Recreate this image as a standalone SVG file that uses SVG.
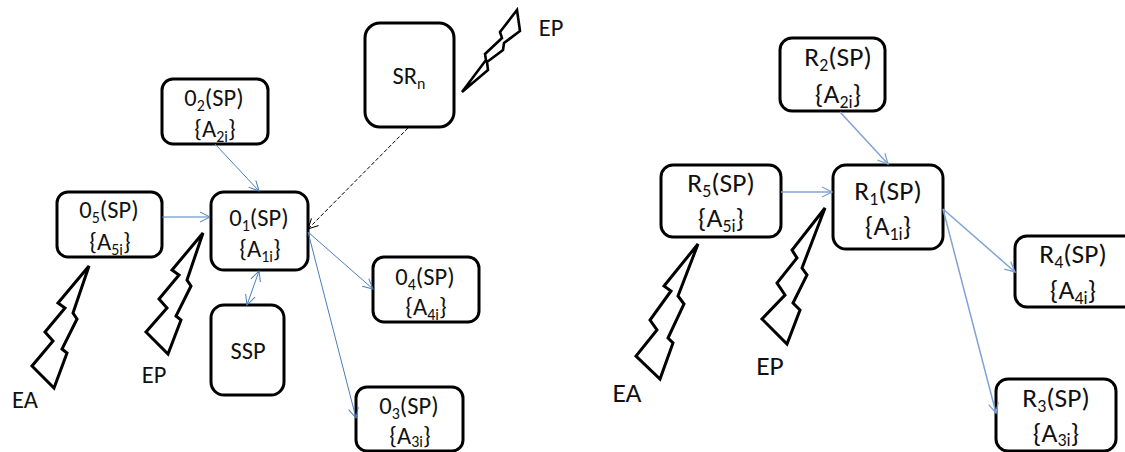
<svg xmlns="http://www.w3.org/2000/svg" width="1125" height="452" viewBox="0 0 1125 452">
<style>
.box{fill:#fff;stroke:#000;stroke-width:3}
.bolt{fill:#fff;stroke:#000;stroke-width:3;stroke-linejoin:miter}
.t{font-family:Carlito,Lato,"Open Sans",sans-serif;font-size:24.5px;fill:#111;text-anchor:middle}
.b{font-size:27.5px}
.c{fill:none;stroke:#4a7ebb;stroke-width:1;marker-end:url(#a)}
.r{stroke:#7fa3d3;stroke-width:1.5;marker-end:url(#b)}
.s{font-size:65%}
</style>
<defs>
<marker id="a" markerUnits="userSpaceOnUse" markerWidth="14" markerHeight="14" refX="11" refY="6" orient="auto-start-reverse"><path d="M1 1L11 6L1 11" fill="none" stroke="#4a7ebb"/></marker>
<marker id="b" markerUnits="userSpaceOnUse" markerWidth="14" markerHeight="14" refX="11" refY="6" orient="auto"><path d="M1 1L11 6L1 11" fill="none" stroke="#7fa3d3" stroke-width="1.3"/></marker>
<marker id="k" markerUnits="userSpaceOnUse" markerWidth="14" markerHeight="14" refX="11" refY="6" orient="auto"><path d="M1 1L11 6L1 11" fill="none" stroke="#000"/></marker>
</defs>
<g id="n-o2"><rect class="box" x="162" y="79" width="106" height="65" rx="11"/><text class="t" x="214" y="106">0<tspan class="s" dy="5">2</tspan><tspan dy="-5">(SP)</tspan></text><text class="t" x="215" y="137">{A<tspan class="s" dy="5">2i</tspan><tspan dy="-5">}</tspan></text></g>
<g id="n-o5"><rect class="box" x="57" y="192" width="105" height="65" rx="11"/><text class="t" x="109" y="218">0<tspan class="s" dy="5">5</tspan><tspan dy="-5">(SP)</tspan></text><text class="t" x="110" y="250">{A<tspan class="s" dy="5">5i</tspan><tspan dy="-5">}</tspan></text></g>
<g id="n-o1"><rect class="box" x="211" y="192" width="97" height="78" rx="13"/><text class="t" x="259" y="226">0<tspan class="s" dy="5">1</tspan><tspan dy="-5">(SP)</tspan></text><text class="t" x="260" y="257">{A<tspan class="s" dy="5">1i</tspan><tspan dy="-5">}</tspan></text></g>
<g id="n-ssp"><rect class="box" x="211" y="305" width="73" height="90" rx="13"/><text class="t" x="248" y="359">SSP</text></g>
<g id="n-srn"><rect class="box" x="365" y="23" width="89" height="104" rx="15"/><text class="t" x="409" y="84">SR<tspan class="s" dy="5">n</tspan></text></g>
<g id="n-o4"><rect class="box" x="373" y="257" width="106" height="65" rx="11"/><text class="t" x="425" y="285">0<tspan class="s" dy="5">4</tspan><tspan dy="-5">(SP)</tspan></text><text class="t" x="426" y="315">{A<tspan class="s" dy="5">4i</tspan><tspan dy="-5">}</tspan></text></g>
<g id="n-o3"><rect class="box" x="356" y="387" width="107" height="64" rx="11"/><text class="t" x="409" y="414">0<tspan class="s" dy="5">3</tspan><tspan dy="-5">(SP)</tspan></text><text class="t" x="410" y="444">{A<tspan class="s" dy="3">3i</tspan><tspan dy="-3">}</tspan></text></g>
<g id="n-r2"><rect class="box" x="780" y="38" width="105" height="73" rx="12"/><text class="t b" x="838" y="66">R<tspan class="s" dy="5">2</tspan><tspan dy="-5">(SP)</tspan></text><text class="t b" x="838" y="103">{A<tspan class="s" dy="5">2i</tspan><tspan dy="-5">}</tspan></text></g>
<g id="n-r5"><rect class="box" x="661" y="165" width="120" height="72" rx="12"/><text class="t b" x="721" y="192">R<tspan class="s" dy="5">5</tspan><tspan dy="-5">(SP)</tspan></text><text class="t b" x="721" y="227">{A<tspan class="s" dy="5">5i</tspan><tspan dy="-5">}</tspan></text></g>
<g id="n-r1"><rect class="box" x="833" y="165" width="110" height="84" rx="13"/><text class="t b" x="888" y="200">R<tspan class="s" dy="5">1</tspan><tspan dy="-5">(SP)</tspan></text><text class="t b" x="888" y="235">{A<tspan class="s" dy="5">1i</tspan><tspan dy="-5">}</tspan></text></g>
<g id="n-r4"><rect class="box" x="1015" y="236" width="125" height="71" rx="12"/><text class="t b" x="1073" y="263">R<tspan class="s" dy="5">4</tspan><tspan dy="-5">(SP)</tspan></text><text class="t b" x="1073" y="299">{A<tspan class="s" dy="5">4i</tspan><tspan dy="-5">}</tspan></text></g>
<g id="n-r3"><rect class="box" x="996" y="379" width="120" height="72" rx="12"/><text class="t b" x="1056" y="407">R<tspan class="s" dy="5">3</tspan><tspan dy="-5">(SP)</tspan></text><text class="t b" x="1056" y="442">{A<tspan class="s" dy="4">3i</tspan><tspan dy="-4">}</tspan></text></g>
<g id="bolts">
<polygon class="bolt" points="89,266 73,313 77,319 62,349 67,353 54,388 32,366 53,341 45,332 65,308 58,303"/>
<polygon class="bolt" points="203,233 187,280 191,286 176,316 181,320 168,354 146,332 167,308 159,299 179,275 172,270"/>
<polygon class="bolt" style="stroke-width:2.6" points="462,92 486,60 485,54 502,38 500,32 517,10 520,31 504,43 503,50 487,62 488,70"/>
<polygon class="bolt" points="698,244 678,296 684,304 668,338 673,343 660,379 636,356 657,330 650,320 671,291 664,286"/>
<polygon class="bolt" points="825,208 802,268 807,275 793,303 800,310 787,344 762,319 785,295 777,283 797,258 792,250"/>
</g>
<g id="connectors">
<path class="c" d="M215 144L259 191"/>
<path class="c" d="M162 217L210 217"/>
<path class="c" d="M259 271L247 305" style="marker-start:url(#a)"/>
<path d="M408 128L308 229" fill="none" stroke="#000" stroke-dasharray="4 2" marker-end="url(#k)"/>
<path class="c" d="M308 232L373 289"/>
<path class="c" d="M308 232L356 418"/>
<path class="c r" d="M840 112L888 164"/>
<path class="c r" d="M781 192L832 192"/>
<path class="c r" d="M943 209L1015 272"/>
<path class="c r" d="M943 209L996 413"/>
</g>
<g id="labels">
<text class="t" x="25" y="408">EA</text>
<text class="t" x="154" y="383">EP</text>
<text class="t" x="551" y="36">EP</text>
<text class="t b" x="627" y="402">EA</text>
<text class="t b" x="770" y="375">EP</text>
</g>
</svg>
